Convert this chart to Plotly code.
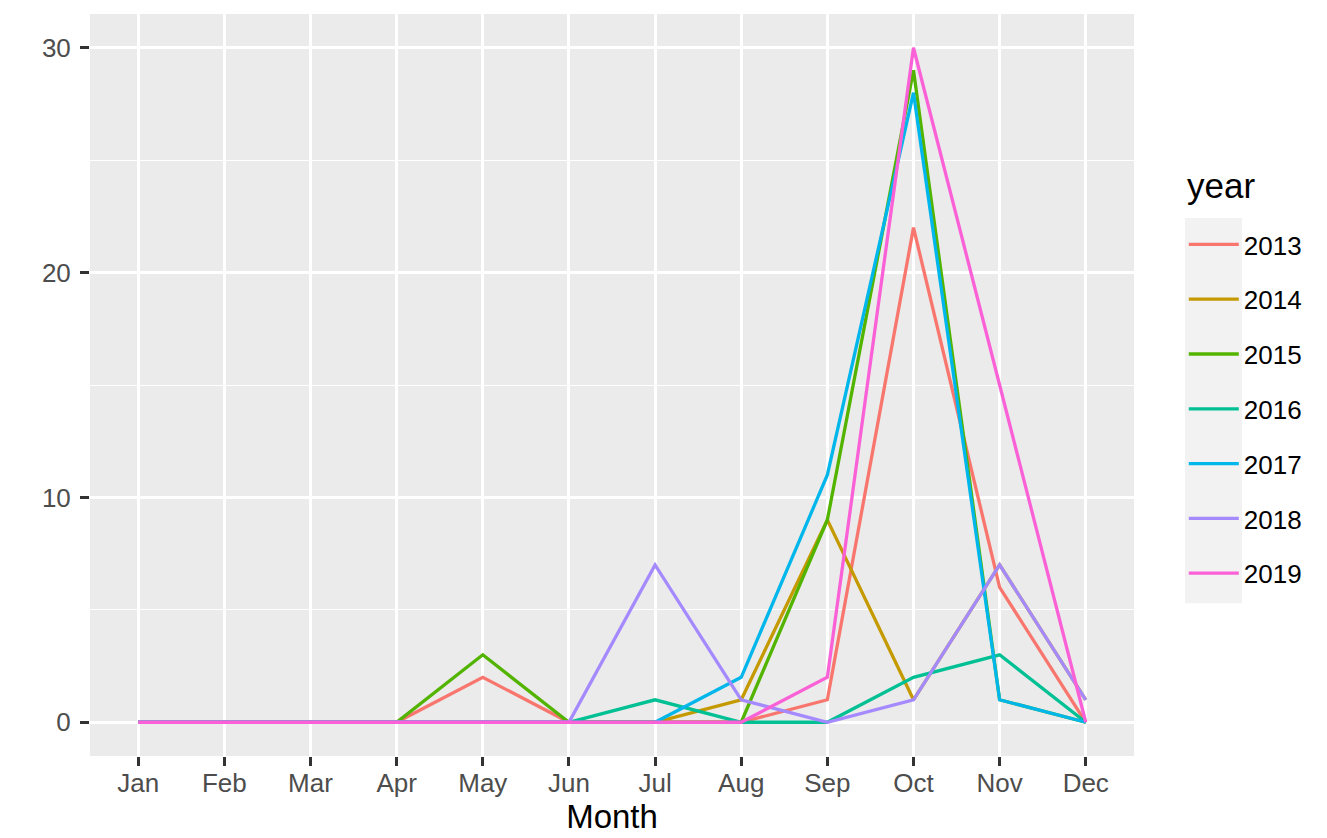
import plotly.graph_objects as go

months = ["Jan", "Feb", "Mar", "Apr", "May", "Jun", "Jul", "Aug", "Sep", "Oct", "Nov", "Dec"]
years = ["2013", "2014", "2015", "2016", "2017", "2018", "2019"]
v2013 = [0, 0, 0, 0, 2, 0, 0, 0, 1, 22, 6, 0]
v2014 = [0, 0, 0, 0, 0, 0, 0, 1, 9, 1, 7, 1]
v2015 = [0, 0, 0, 0, 3, 0, 0, 0, 9, 29, 1, 0]
v2016 = [0, 0, 0, 0, 0, 0, 1, 0, 0, 2, 3, 0]
v2017 = [0, 0, 0, 0, 0, 0, 0, 2, 11, 28, 1, 0]
v2018 = [0, 0, 0, 0, 0, 0, 7, 1, 0, 1, 7, 1]
v2019 = [0, 0, 0, 0, 0, 0, 0, 0, 2, 30, 15, 0]
series = [v2013, v2014, v2015, v2016, v2017, v2018, v2019]
colors = ["#F8766D", "#C49A00", "#53B400", "#00C094", "#00B6EB", "#A58AFF", "#FB61D7"]
y_ticks = [0, 10, 20, 30]

fig = go.Figure()
xs = list(range(len(months)))
for yr, vals, col in zip(years, series, colors):
    fig.add_trace(go.Scatter(
        x=xs, y=vals, mode="lines", name=yr, legendgroup=yr,
        line=dict(color=col, width=3.3),
    ))

# grey key background of the legend
fig.add_shape(type="rect", xref="paper", yref="paper",
              x0=1.0489, x1=1.1034, y0=0.206, y1=0.725,
              fillcolor="#F2F2F2", line=dict(width=0), layer="below")

# legend title
fig.add_annotation(text="year", xref="paper", yref="paper",
                   x=1.0489, y=0.7694, xanchor="left", yanchor="middle",
                   showarrow=False, font=dict(size=35, color="black"))

fig.update_layout(
    width=1319, height=830,
    margin=dict(l=82, r=193, t=6, b=82, autoexpand=False),
    paper_bgcolor="white", plot_bgcolor="#EBEBEB",
    font=dict(family="Liberation Sans, Arial, sans-serif", color="black"),
    xaxis=dict(
        tickmode="array", tickvals=xs, ticktext=months,
        range=[-0.56, 11.56], showgrid=True, gridcolor="white", gridwidth=2.5,
        zeroline=False, ticks="outside", ticklen=9, tickwidth=2.5, tickcolor="#333333",
        tickfont=dict(size=26, color="#4D4D4D"), ticklabelstandoff=-5,
        title=dict(text="Month", font=dict(size=33, color="black"), standoff=2),
        automargin=False, fixedrange=True,
    ),
    yaxis=dict(
        tickmode="array", tickvals=y_ticks,
        range=[-1.5, 31.5], showgrid=True, gridcolor="white", gridwidth=2.5,
        zeroline=False, ticks="outside", ticklen=9, tickwidth=2.5, tickcolor="#333333",
        tickfont=dict(size=26, color="#4D4D4D"), ticklabelstandoff=4,
        minor=dict(tickvals=[5, 15, 25], showgrid=True, gridcolor="white", gridwidth=1.2, ticks=""),
        automargin=False, fixedrange=True,
    ),
    showlegend=True,
    legend=dict(
        x=1.0477, xanchor="left", y=0.721, yanchor="top",
        bgcolor="rgba(0,0,0,0)",
        font=dict(size=26, color="black"),
        tracegroupgap=18, itemwidth=50,
    ),
)

fig.write_html("out.html")
